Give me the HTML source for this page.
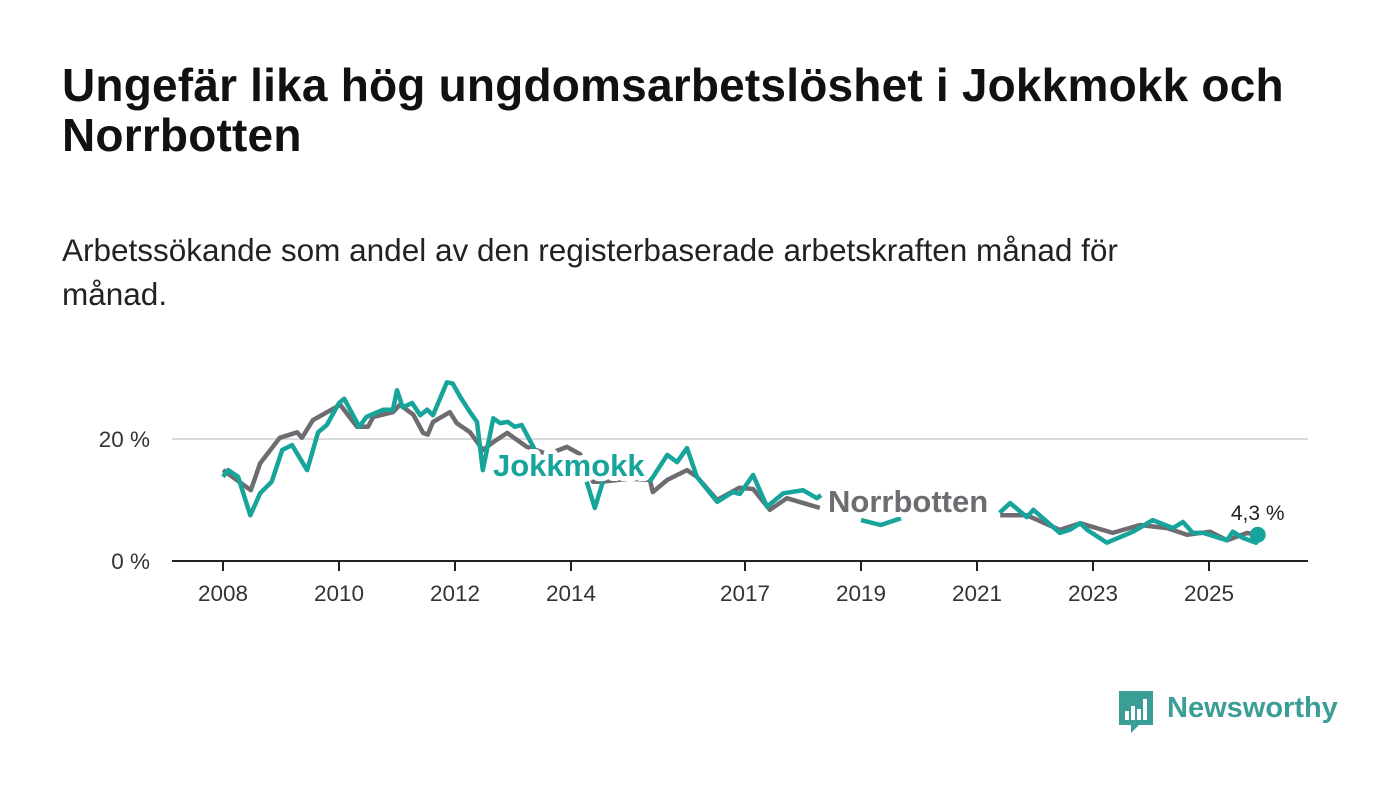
<!DOCTYPE html>
<html><head><meta charset="utf-8"><style>
body{margin:0;width:1400px;height:794px;background:#fff;font-family:"Liberation Sans","DejaVu Sans",sans-serif;overflow:hidden;position:relative}
h1{position:absolute;left:62px;top:60px;margin:0;font-size:46px;line-height:50px;font-weight:bold;color:#111;width:1320px;letter-spacing:0.2px}
.sub{position:absolute;left:62px;top:228px;margin:0;font-size:31.5px;line-height:44px;color:#222;width:1165px}
svg{position:absolute;left:0;top:0}
</style></head><body>
<h1>Ungefär lika hög ungdomsarbetslöshet i Jokkmokk och Norrbotten</h1>
<p class="sub">Arbetssökande som andel av den registerbaserade arbetskraften månad för månad.</p>
<svg id="chart" width="1400" height="794"></svg>
<script>
const xTicks=[2008,2010,2012,2014,2017,2019,2021,2023,2025];
const yTicks=[0,20];
const norrT=[2008.0,2008.48,2008.64,2008.98,2009.28,2009.36,2009.55,2010.02,2010.31,2010.5,2010.59,2010.93,2011.05,2011.28,2011.45,2011.53,2011.62,2011.91,2012.03,2012.26,2012.48,2012.66,2012.9,2013.24,2013.6,2013.93,2014.16,2014.38,2014.55,2015.0,2015.36,2015.41,2015.66,2016.0,2016.17,2016.52,2016.9,2017.14,2017.43,2017.72,2018.29,null,2021.4,2021.86,2022.43,2022.78,2023.34,2023.81,2024.28,2024.62,2025.02,2025.31,2025.66,2025.8];
const norrV=[14.9,11.6,16,20.2,21.1,20.2,23.1,25.6,22,22,23.6,24.4,25.6,24,21,20.7,22.8,24.4,22.6,21.1,18.2,19.5,21,18.7,17.5,18.7,17.5,13,13,13.5,13.3,11.3,13.3,14.9,13.8,10,12,11.8,8.4,10.3,8.7,null,7.5,7.5,5.1,6.2,4.6,5.9,5.4,4.3,4.8,3.4,4.6,4.3];
const jokkT=[2008.0,2008.09,2008.26,2008.47,2008.64,2008.84,2009.02,2009.19,2009.45,2009.64,2009.79,2010.0,2010.09,2010.35,2010.47,2010.76,2010.93,2011.0,2011.1,2011.26,2011.4,2011.52,2011.62,2011.86,2011.96,2012.09,2012.26,2012.38,2012.48,2012.66,2012.78,2012.91,2013.03,2013.15,2013.38,null,2014.27,2014.41,2014.55,null,2015.36,2015.66,2015.83,2016.0,2016.17,2016.52,2016.79,2016.91,2017.14,2017.38,2017.66,2018.0,2018.24,2018.31,null,2019.0,2019.34,2019.69,null,2021.39,2021.57,2021.86,2021.97,2022.43,2022.6,2022.78,2022.9,2023.24,2023.69,2024.03,2024.38,2024.55,2024.72,2024.9,2025.31,2025.41,2025.58,2025.81,2025.91,2025.84];
const jokkV=[13.8,14.9,13.8,7.5,11.1,13,18.2,19,14.9,21.1,22.3,25.9,26.6,22,23.6,24.8,24.8,28,25.2,25.9,23.9,24.8,23.9,29.3,29.1,26.9,24.4,22.8,14.9,23.4,22.6,22.8,22,22.3,18.2,null,13,8.7,13,null,13,17.4,16.2,18.5,13.8,9.7,11.3,11,14.1,8.9,11.1,11.6,10.3,10.8,null,6.7,5.9,7,null,7.9,9.5,7.2,8.4,4.6,5.1,6.2,5.1,3,4.8,6.7,5.4,6.4,4.6,4.6,3.4,4.8,3.8,3,4.3,4.3];
const NS="http://www.w3.org/2000/svg";
const svg=document.getElementById('chart');
const X=t=>223+(t-2008)*58;
const Y=v=>561-v*6.1;
function mk(tag,a){const e=document.createElementNS(NS,tag);for(const k in a)e.setAttribute(k,a[k]);svg.appendChild(e);return e;}
yTicks.forEach(v=>{
  if(v>0){const g=mk('line',{x1:172,x2:1308,y1:Y(v),y2:Y(v),stroke:'#d9d9d9','stroke-width':2});
  
  }
  const t=mk('text',{x:150,y:Y(v)+8,'text-anchor':'end','font-size':22.5,fill:'#333'});t.textContent=v+' %';
  
  
});
const ax=mk('line',{x1:172,x2:1308,y1:561,y2:561,stroke:'#222','stroke-width':2});


xTicks.forEach(y=>{
  const l=mk('line',{x1:X(y),x2:X(y),y1:561,y2:571,stroke:'#222','stroke-width':2});
  
  
  const t=mk('text',{x:X(y),y:601,'text-anchor':'middle','font-size':22.5,fill:'#333'});t.textContent=y;
  
  
});
function path(T,V){let d='',pen=false;for(let i=0;i<T.length;i++){if(T[i]==null||V[i]==null){pen=false;continue;}d+=(pen?'L':'M')+X(T[i]).toFixed(1)+' '+Y(V[i]).toFixed(1);pen=true;}return d;}
const pn=mk('path',{d:path(norrT,norrV),fill:'none',stroke:'#6e6c70','stroke-width':4.5,'stroke-linejoin':'round'});


const pj=mk('path',{d:path(jokkT,jokkV),fill:'none',stroke:'#16a49b','stroke-width':4.5,'stroke-linejoin':'round'});


const dot=mk('circle',{cx:X(jokkT[jokkT.length-1]),cy:Y(jokkV[jokkV.length-1]),r:8,fill:'#16a49b'});


const lv=mk('text',{x:X(jokkT[jokkT.length-1]),y:Y(jokkV[jokkV.length-1])-15,'text-anchor':'middle','font-size':21,fill:'#222',stroke:'#fff','stroke-width':6,'paint-order':'stroke'});
lv.textContent=String(jokkV[jokkV.length-1]).replace('.',',')+' %';


const lj=mk('text',{x:493,y:476,'font-size':31,'font-weight':'bold',fill:'#16a49b',stroke:'#fff','stroke-width':10,'paint-order':'stroke','stroke-linejoin':'round'});
lj.textContent='Jokkmokk';


const lnb=mk('text',{x:828,y:512,'font-size':31,'font-weight':'bold',fill:'#6e6c70',stroke:'#fff','stroke-width':10,'paint-order':'stroke','stroke-linejoin':'round'});
lnb.textContent='Norrbotten';


</script>
<div style="position:absolute;left:1119px;top:691px;">
 <svg width="36" height="44" style="position:static"><path d="M0 0H34V34H20L12 42V34H0Z" fill="#3a9e97"/><rect x="6" y="20" width="4" height="9" fill="#fff"/><rect x="12" y="15" width="4" height="14" fill="#fff"/><rect x="18" y="18" width="4" height="11" fill="#fff"/><rect x="24" y="8" width="4" height="21" fill="#fff"/></svg>
 <span style="position:absolute;left:48px;top:0;font-size:29px;color:#3a9e97;font-weight:bold;white-space:nowrap;line-height:34px">Newsworthy</span>
</div>
</body></html>
